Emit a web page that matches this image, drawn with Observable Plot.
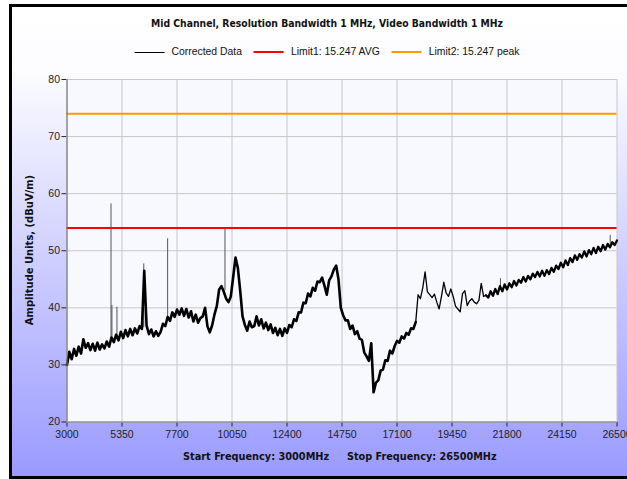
<!DOCTYPE html>
<html><head><meta charset="utf-8">
<script src="https://cdn.jsdelivr.net/npm/d3@7"></script>
<script src="https://cdn.jsdelivr.net/npm/@observablehq/plot@0.6"></script>
<style>
html,body{margin:0;padding:0;width:627px;height:479px;overflow:hidden;background:#fff;}
#frame{position:absolute;left:9px;top:4px;width:650px;height:475px;box-sizing:border-box;border:3px solid #000;
  background:linear-gradient(to bottom,#ffffff 0%,#fcfcff 14%,#9a9aff 100%);}
.b{position:absolute;white-space:nowrap;font-family:"DejaVu Sans Condensed","DejaVu Sans",sans-serif;font-weight:bold;font-size:11px;color:#111;line-height:1;}
#chart{position:absolute;left:0;top:0;}
#legend{position:absolute;top:46px;left:327px;transform:translateX(-50%);display:flex;align-items:center;white-space:nowrap;
  font-family:"Liberation Sans",Arial,sans-serif;font-size:10.4px;color:#111;line-height:12px;}
#legend .sw{display:inline-block;width:30px;margin-right:7px;}
#legend .it{display:flex;align-items:center;margin-right:12px;}
#legend .it:last-child{margin-right:0;}
</style></head><body>
<div id="frame"></div>
<div id="chart"></div>
<div id="title" class="b" style="left:327px;top:18px;transform:translateX(-50%);"></div>
<div id="legend"></div>
<div id="ylab" class="b" style="left:30px;top:250px;transform:translate(-50%,-50%) rotate(-90deg);"></div>
<div id="start" class="b" style="left:183px;top:452px;"></div>
<div id="stop" class="b" style="left:347px;top:452px;"></div>
<script>
// ---- texts ----
const titleText = "Mid Channel, Resolution Bandwidth 1 MHz, Video Bandwidth 1 MHz";
const yLabel = "Amplitude Units, (dBuV/m)";
const startText = "Start Frequency: 3000MHz";
const stopText = "Stop Frequency: 26500MHz";
const seriesNames = ["Corrected Data", "Limit1: 15.247 AVG", "Limit2: 15.247 peak"];
const seriesColors = ["#000000", "#ff0000", "#ff9900"];

// ---- axes ----
const xTicks = [3000, 5350, 7700, 10050, 12400, 14750, 17100, 19450, 21800, 24150, 26500];
const yTicks = [20, 30, 40, 50, 60, 70, 80];

// ---- limits ----
const limit1 = 54;
const limit2 = 74;

// ---- corrected data trace (read every 100 MHz from 3000 MHz) ----
const traceStartMHz = 3000;
const traceStepMHz = 100;
const traceLevel = [
  30.0, 32.3, 31.0, 32.8, 31.6, 33.2, 32.0, 34.5, 33.0, 33.8,
  32.6, 33.7, 32.5, 33.9, 32.7, 33.6, 32.9, 34.1, 33.2, 34.8,
  34.0, 35.3, 34.3, 35.8, 34.7, 36.1, 35.0, 36.3, 35.2, 36.4,
  35.5, 36.8, 36.3, 46.5, 36.9, 35.4, 36.2, 35.0, 35.9, 35.1,
  35.8, 37.2, 36.8, 38.4, 37.7, 39.2, 38.4, 39.7, 38.8, 39.9,
  38.6, 39.8, 38.3, 39.4, 37.6, 38.8, 37.4, 38.2, 38.5, 40.0,
  36.8, 35.7, 36.9, 38.8, 40.3, 43.2, 43.8, 42.8, 41.6, 41.0,
  42.0, 45.4, 48.8, 47.0, 43.0, 38.5, 37.0, 36.0, 37.6, 36.6,
  36.8, 38.5, 36.9, 38.0, 36.4, 37.4, 36.1, 37.1, 35.6, 36.5,
  35.2, 36.3, 35.1, 36.4, 35.6, 37.0, 36.6, 38.0, 37.7, 39.2,
  39.2, 40.9, 40.8, 42.5, 42.0, 43.5, 43.0, 44.6, 44.5, 45.3,
  43.9, 42.3, 44.8, 45.5, 46.7, 47.4, 45.0, 40.0, 38.7, 37.8,
  37.8, 36.3, 36.9, 35.4, 35.9, 34.6, 34.4, 32.2, 31.5, 30.7,
  33.8, 25.2, 26.9, 27.3, 29.0, 29.2, 30.8, 30.7, 32.5, 32.0,
  33.3, 34.2, 33.9, 35.0, 34.6, 35.6, 35.3, 36.4, 36.3, 37.5,
  42.3, 41.6, 43.5, 46.3, 42.8, 42.3, 41.8, 42.4, 41.0, 39.8,
  42.0, 44.5, 42.6, 42.0, 43.3, 42.0, 40.3, 39.8, 39.3, 42.5,
  43.0, 40.4, 41.2, 41.6, 41.0, 40.7, 41.3, 44.3, 42.0, 42.2,
  41.8, 42.9, 42.1, 43.3, 42.4, 43.8, 42.9, 44.1, 43.2, 44.3,
  43.6, 44.7, 43.9, 44.9, 44.4, 45.4, 44.6, 45.6, 45.0, 46.0,
  45.4, 46.3, 45.5, 46.5, 45.6, 46.6, 45.9, 47.0, 46.3, 47.4,
  46.8, 47.9, 47.1, 48.3, 47.5, 48.7, 48.0, 49.2, 48.4, 49.4,
  48.8, 49.9, 49.0, 50.1, 49.4, 50.5, 49.6, 50.7, 49.9, 51.0,
  50.2, 51.2, 50.6, 51.5, 51.0, 51.8
];
// the stretch of the trace where it is a thin, clean line (MHz)
const quietFrom = 17900;
const quietTo = 20900;

// ---- narrow spurs in the trace ----
const spurFreq = [4880, 4920, 5135, 6280, 7300, 9750, 21520, 26210];
const spurBase = [34.0, 34.0, 34.5, 36.5, 37.8, 43.0, 43.5, 51.0];
const spurPeak = [58.2, 40.4, 40.1, 47.7, 52.1, 54.0, 45.1, 52.7];

// ---- build tables ----
const trace = traceLevel.map((v, i) => ({f: traceStartMHz + i * traceStepMHz, v}));
const noisyA = trace.filter(d => d.f <= quietFrom);
const quiet = trace.filter(d => d.f >= quietFrom && d.f <= quietTo);
const noisyB = trace.filter(d => d.f >= quietTo);
const spurs = spurFreq.map((f, i) => ({f, y1: spurBase[i], y2: spurPeak[i]}));

const chart = Plot.plot({
  width: 627, height: 479,
  marginLeft: 66.5, marginRight: 10.5, marginTop: 79, marginBottom: 57.5,
  style: {background: "transparent", fontFamily: "'Liberation Sans', Arial, sans-serif", fontSize: "10.5px", color: "#222"},
  x: {domain: [3000, 26500], ticks: xTicks, tickFormat: d => String(d), tickSize: 5, tickPadding: 4, label: null},
  y: {domain: [20, 80], ticks: yTicks, tickFormat: d => String(d), tickSize: 5, tickPadding: 2, label: null},
  marks: [
    Plot.frame({fill: "#f8f8ff", stroke: null}),
    Plot.ruleX(xTicks, {stroke: "#c8c8c8", strokeWidth: 1}),
    Plot.ruleY(yTicks, {stroke: "#c8c8c8", strokeWidth: 1}),
    Plot.ruleY([limit2], {stroke: seriesColors[2], strokeWidth: 2}),
    Plot.ruleY([limit1], {stroke: seriesColors[1], strokeWidth: 2}),
    Plot.ruleX(spurs, {x: "f", y1: "y1", y2: "y2", stroke: "#555", strokeWidth: 1}),
    Plot.line(noisyA, {x: "f", y: "v", stroke: seriesColors[0], strokeWidth: 2.6, strokeLinejoin: "round"}),
    Plot.line(noisyB, {x: "f", y: "v", stroke: seriesColors[0], strokeWidth: 2.3, strokeLinejoin: "round"}),
    Plot.line(quiet, {x: "f", y: "v", stroke: seriesColors[0], strokeWidth: 1.3, strokeLinejoin: "round"}),
    Plot.ruleX([3000], {stroke: "#7a7a7a", strokeWidth: 1.2}),
    Plot.ruleY([20], {stroke: "#7a7a7a", strokeWidth: 1.2})
  ]
});
document.getElementById("chart").appendChild(chart);

const setText = (id, txt, targetWidth) => {
  const el = document.getElementById(id);
  el.textContent = txt;
  const w = el.offsetWidth;
  if (w > 0) el.style.fontSize = (11 * targetWidth / w).toFixed(2) + "px";
};
setText("title", titleText, 352);
setText("ylab", yLabel, 150);
setText("start", startText, 146);
setText("stop", stopText, 150);

const lg = document.getElementById("legend");
seriesNames.forEach((name, i) => {
  const it = document.createElement("span"); it.className = "it";
  const sw = document.createElement("span"); sw.className = "sw";
  sw.style.borderTop = (i === 0 ? 1 : 2) + "px solid " + seriesColors[i];
  const tx = document.createElement("span"); tx.textContent = name;
  it.appendChild(sw); it.appendChild(tx); lg.appendChild(it);
});
</script>
</body></html>
